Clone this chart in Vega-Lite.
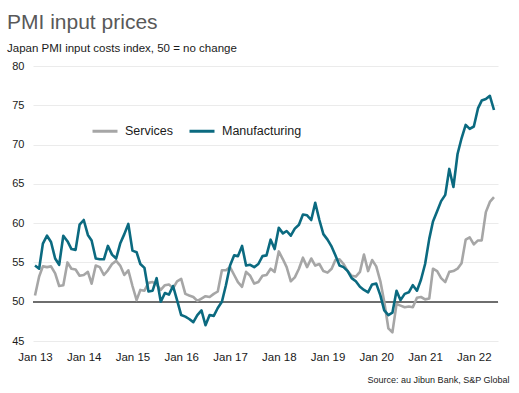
{
  "$schema": "https://vega.github.io/schema/vega-lite/v6.json",
  "width": 465,
  "height": 275,
  "autosize": "none",
  "padding": {"left": 33, "top": 66, "right": 21, "bottom": 52},
  "title": {
    "text": "PMI input prices",
    "subtitle": "Japan PMI input costs index, 50 = no change",
    "anchor": "start",
    "frame": "group",
    "dx": -26,
    "offset": 6,
    "font": "Liberation Sans",
    "fontSize": 21,
    "fontWeight": "normal",
    "color": "#595959",
    "subtitleFont": "Liberation Sans",
    "subtitleFontSize": 11.5,
    "subtitleColor": "#1a1a1a",
    "subtitlePadding": 10
  },
  "config": {"view": {"stroke": null}, "font": "Liberation Sans"},
  "data": {
    "values": [
      {"d": "2013-01-01", "Services": 50.8, "Manufacturing": 54.6},
      {"d": "2013-02-01", "Services": 53.2, "Manufacturing": 54.2},
      {"d": "2013-03-01", "Services": 54.5, "Manufacturing": 57.4},
      {"d": "2013-04-01", "Services": 54.4, "Manufacturing": 58.4},
      {"d": "2013-05-01", "Services": 54.5, "Manufacturing": 57.6},
      {"d": "2013-06-01", "Services": 53.6, "Manufacturing": 55.5},
      {"d": "2013-07-01", "Services": 52.0, "Manufacturing": 54.7},
      {"d": "2013-08-01", "Services": 52.1, "Manufacturing": 58.4},
      {"d": "2013-09-01", "Services": 55.0, "Manufacturing": 57.7},
      {"d": "2013-10-01", "Services": 54.2, "Manufacturing": 56.7},
      {"d": "2013-11-01", "Services": 54.1, "Manufacturing": 56.6},
      {"d": "2013-12-01", "Services": 53.3, "Manufacturing": 59.8},
      {"d": "2014-01-01", "Services": 53.4, "Manufacturing": 60.4},
      {"d": "2014-02-01", "Services": 53.8, "Manufacturing": 58.5},
      {"d": "2014-03-01", "Services": 52.3, "Manufacturing": 57.8},
      {"d": "2014-04-01", "Services": 54.6, "Manufacturing": 55.5},
      {"d": "2014-05-01", "Services": 54.4, "Manufacturing": 55.4},
      {"d": "2014-06-01", "Services": 53.4, "Manufacturing": 55.4},
      {"d": "2014-07-01", "Services": 54.0, "Manufacturing": 57.1},
      {"d": "2014-08-01", "Services": 54.8, "Manufacturing": 56.0},
      {"d": "2014-09-01", "Services": 55.2, "Manufacturing": 55.5},
      {"d": "2014-10-01", "Services": 54.6, "Manufacturing": 57.4},
      {"d": "2014-11-01", "Services": 53.4, "Manufacturing": 58.6},
      {"d": "2014-12-01", "Services": 54.0, "Manufacturing": 59.9},
      {"d": "2015-01-01", "Services": 52.0, "Manufacturing": 56.5},
      {"d": "2015-02-01", "Services": 50.2, "Manufacturing": 56.3},
      {"d": "2015-03-01", "Services": 51.5, "Manufacturing": 54.8},
      {"d": "2015-04-01", "Services": 51.4, "Manufacturing": 54.3},
      {"d": "2015-05-01", "Services": 52.4, "Manufacturing": 51.3},
      {"d": "2015-06-01", "Services": 52.5, "Manufacturing": 51.4},
      {"d": "2015-07-01", "Services": 52.2, "Manufacturing": 53.0},
      {"d": "2015-08-01", "Services": 51.5, "Manufacturing": 50.0},
      {"d": "2015-09-01", "Services": 52.1, "Manufacturing": 51.1},
      {"d": "2015-10-01", "Services": 52.2, "Manufacturing": 50.9},
      {"d": "2015-11-01", "Services": 51.7, "Manufacturing": 52.0},
      {"d": "2015-12-01", "Services": 52.6, "Manufacturing": 50.2},
      {"d": "2016-01-01", "Services": 52.9, "Manufacturing": 48.3},
      {"d": "2016-02-01", "Services": 51.0, "Manufacturing": 48.1},
      {"d": "2016-03-01", "Services": 50.8, "Manufacturing": 47.8},
      {"d": "2016-04-01", "Services": 50.6, "Manufacturing": 47.4},
      {"d": "2016-05-01", "Services": 50.1, "Manufacturing": 48.3},
      {"d": "2016-06-01", "Services": 50.4, "Manufacturing": 48.9},
      {"d": "2016-07-01", "Services": 50.7, "Manufacturing": 47.0},
      {"d": "2016-08-01", "Services": 50.6, "Manufacturing": 48.3},
      {"d": "2016-09-01", "Services": 51.0, "Manufacturing": 48.2},
      {"d": "2016-10-01", "Services": 51.3, "Manufacturing": 49.2},
      {"d": "2016-11-01", "Services": 54.0, "Manufacturing": 50.0},
      {"d": "2016-12-01", "Services": 54.0, "Manufacturing": 52.1},
      {"d": "2017-01-01", "Services": 54.4, "Manufacturing": 54.6},
      {"d": "2017-02-01", "Services": 53.4, "Manufacturing": 55.9},
      {"d": "2017-03-01", "Services": 52.5, "Manufacturing": 55.8},
      {"d": "2017-04-01", "Services": 51.9, "Manufacturing": 57.1},
      {"d": "2017-05-01", "Services": 53.8, "Manufacturing": 54.6},
      {"d": "2017-06-01", "Services": 53.3, "Manufacturing": 54.7},
      {"d": "2017-07-01", "Services": 52.3, "Manufacturing": 54.4},
      {"d": "2017-08-01", "Services": 52.5, "Manufacturing": 54.8},
      {"d": "2017-09-01", "Services": 53.3, "Manufacturing": 55.8},
      {"d": "2017-10-01", "Services": 53.4, "Manufacturing": 55.9},
      {"d": "2017-11-01", "Services": 54.2, "Manufacturing": 57.9},
      {"d": "2017-12-01", "Services": 53.8, "Manufacturing": 56.7},
      {"d": "2018-01-01", "Services": 56.4, "Manufacturing": 59.4},
      {"d": "2018-02-01", "Services": 55.4, "Manufacturing": 58.7},
      {"d": "2018-03-01", "Services": 54.4, "Manufacturing": 59.0},
      {"d": "2018-04-01", "Services": 52.6, "Manufacturing": 58.4},
      {"d": "2018-05-01", "Services": 53.1, "Manufacturing": 59.3},
      {"d": "2018-06-01", "Services": 54.2, "Manufacturing": 59.8},
      {"d": "2018-07-01", "Services": 55.6, "Manufacturing": 61.1},
      {"d": "2018-08-01", "Services": 54.4, "Manufacturing": 61.0},
      {"d": "2018-09-01", "Services": 55.5, "Manufacturing": 60.4},
      {"d": "2018-10-01", "Services": 54.6, "Manufacturing": 62.6},
      {"d": "2018-11-01", "Services": 54.8, "Manufacturing": 60.4},
      {"d": "2018-12-01", "Services": 53.9, "Manufacturing": 58.6},
      {"d": "2019-01-01", "Services": 53.7, "Manufacturing": 57.9},
      {"d": "2019-02-01", "Services": 54.2, "Manufacturing": 57.0},
      {"d": "2019-03-01", "Services": 55.3, "Manufacturing": 55.9},
      {"d": "2019-04-01", "Services": 55.4, "Manufacturing": 54.6},
      {"d": "2019-05-01", "Services": 54.8, "Manufacturing": 54.4},
      {"d": "2019-06-01", "Services": 53.9, "Manufacturing": 53.9},
      {"d": "2019-07-01", "Services": 53.3, "Manufacturing": 53.0},
      {"d": "2019-08-01", "Services": 53.2, "Manufacturing": 52.6},
      {"d": "2019-09-01", "Services": 53.8, "Manufacturing": 51.9},
      {"d": "2019-10-01", "Services": 56.0, "Manufacturing": 51.5},
      {"d": "2019-11-01", "Services": 53.9, "Manufacturing": 51.2},
      {"d": "2019-12-01", "Services": 55.3, "Manufacturing": 52.2},
      {"d": "2020-01-01", "Services": 54.5, "Manufacturing": 52.3},
      {"d": "2020-02-01", "Services": 52.6, "Manufacturing": 50.8},
      {"d": "2020-03-01", "Services": 50.0, "Manufacturing": 48.9},
      {"d": "2020-04-01", "Services": 46.6, "Manufacturing": 48.3},
      {"d": "2020-05-01", "Services": 46.1, "Manufacturing": 48.6},
      {"d": "2020-06-01", "Services": 49.7, "Manufacturing": 51.4},
      {"d": "2020-07-01", "Services": 49.5, "Manufacturing": 50.2},
      {"d": "2020-08-01", "Services": 49.3, "Manufacturing": 51.0},
      {"d": "2020-09-01", "Services": 49.4, "Manufacturing": 51.2},
      {"d": "2020-10-01", "Services": 49.3, "Manufacturing": 52.1},
      {"d": "2020-11-01", "Services": 50.5, "Manufacturing": 51.4},
      {"d": "2020-12-01", "Services": 50.6, "Manufacturing": 52.8},
      {"d": "2021-01-01", "Services": 50.3, "Manufacturing": 54.8},
      {"d": "2021-02-01", "Services": 50.4, "Manufacturing": 58.0},
      {"d": "2021-03-01", "Services": 54.2, "Manufacturing": 60.2},
      {"d": "2021-04-01", "Services": 53.9, "Manufacturing": 61.5},
      {"d": "2021-05-01", "Services": 53.0, "Manufacturing": 62.8},
      {"d": "2021-06-01", "Services": 52.5, "Manufacturing": 63.6},
      {"d": "2021-07-01", "Services": 53.8, "Manufacturing": 66.9},
      {"d": "2021-08-01", "Services": 53.9, "Manufacturing": 64.6},
      {"d": "2021-09-01", "Services": 54.2, "Manufacturing": 68.8},
      {"d": "2021-10-01", "Services": 54.9, "Manufacturing": 70.8},
      {"d": "2021-11-01", "Services": 57.9, "Manufacturing": 72.5},
      {"d": "2021-12-01", "Services": 58.2, "Manufacturing": 72.0},
      {"d": "2022-01-01", "Services": 57.3, "Manufacturing": 72.3},
      {"d": "2022-02-01", "Services": 57.8, "Manufacturing": 74.6},
      {"d": "2022-03-01", "Services": 57.8, "Manufacturing": 75.6},
      {"d": "2022-04-01", "Services": 61.4, "Manufacturing": 75.8},
      {"d": "2022-05-01", "Services": 62.7, "Manufacturing": 76.2},
      {"d": "2022-06-01", "Services": 63.3, "Manufacturing": 74.4}
    ]
  },
  "layer": [
    {
      "mark": {"type": "rule", "color": "#6e6e6e", "strokeWidth": 1.6},
      "encoding": {
        "y": {
          "datum": 50,
          "type": "quantitative",
          "scale": {"domain": [45, 80], "zero": false, "nice": false},
          "axis": {
            "title": null,
            "values": [45, 50, 55, 60, 65, 70, 75, 80],
            "tickCount": 8,
            "grid": true,
            "gridColor": "#ebebeb",
            "gridWidth": 1,
            "domain": false,
            "ticks": false,
            "labelOverlap": false,
            "labelFont": "Liberation Sans",
            "labelFontSize": 11,
            "labelColor": "#1a1a1a",
            "labelPadding": 9
          }
        }
      }
    },
    {
      "transform": [{"fold": ["Services", "Manufacturing"], "as": ["series", "value"]}],
      "mark": {"type": "line", "strokeWidth": 2.6, "strokeJoin": "round"},
      "encoding": {
        "x": {
          "field": "d",
          "type": "temporal",
          "scale": {
            "type": "utc",
            "domain": [
              {"year": 2012, "month": 12, "date": 17, "utc": true},
              {"year": 2022, "month": 7, "date": 1, "utc": true}
            ]
          },
          "axis": {
            "title": "Source: au Jibun Bank, S&P Global",
            "titleFont": "Liberation Sans",
            "titleFontSize": 9,
            "titleFontWeight": "normal",
            "titleColor": "#1a1a1a",
            "titleAnchor": "end",
            "titleAlign": "right",
            "titleX": 476,
            "titleY": 41,
            "titleBaseline": "alphabetic",
            "format": "%b %y",
            "values": [
              {"year": 2013, "month": 1, "date": 1, "utc": true},
              {"year": 2014, "month": 1, "date": 1, "utc": true},
              {"year": 2015, "month": 1, "date": 1, "utc": true},
              {"year": 2016, "month": 1, "date": 1, "utc": true},
              {"year": 2017, "month": 1, "date": 1, "utc": true},
              {"year": 2018, "month": 1, "date": 1, "utc": true},
              {"year": 2019, "month": 1, "date": 1, "utc": true},
              {"year": 2020, "month": 1, "date": 1, "utc": true},
              {"year": 2021, "month": 1, "date": 1, "utc": true},
              {"year": 2022, "month": 1, "date": 1, "utc": true}
            ],
            "grid": false,
            "domain": false,
            "ticks": false,
            "labelFont": "Liberation Sans",
            "labelFontSize": 11.5,
            "labelColor": "#1a1a1a",
            "labelPadding": 10,
            "labelFlush": false,
            "labelOverlap": false
          }
        },
        "y": {
          "field": "value",
          "type": "quantitative",
          "scale": {"domain": [45, 80], "zero": false, "nice": false},
          "axis": {
            "title": null,
            "values": [45, 50, 55, 60, 65, 70, 75, 80],
            "tickCount": 8,
            "grid": true,
            "gridColor": "#ebebeb",
            "gridWidth": 1,
            "domain": false,
            "ticks": false,
            "labelOverlap": false,
            "labelFont": "Liberation Sans",
            "labelFontSize": 11,
            "labelColor": "#1a1a1a",
            "labelPadding": 9
          }
        },
        "color": {
          "field": "series",
          "type": "nominal",
          "scale": {"domain": ["Services", "Manufacturing"], "range": ["#a6a6a6", "#0b6a80"]},
          "legend": {
            "title": null,
            "orient": "none",
            "legendX": 58,
            "legendY": 51,
            "direction": "horizontal",
            "symbolType": "stroke",
            "symbolSize": 625,
            "symbolStrokeWidth": 3,
            "labelFont": "Liberation Sans",
            "labelFontSize": 12.5,
            "labelColor": "#1a1a1a",
            "labelOffset": 6,
            "columnPadding": 10
          }
        }
      }
    }
  ]
}
